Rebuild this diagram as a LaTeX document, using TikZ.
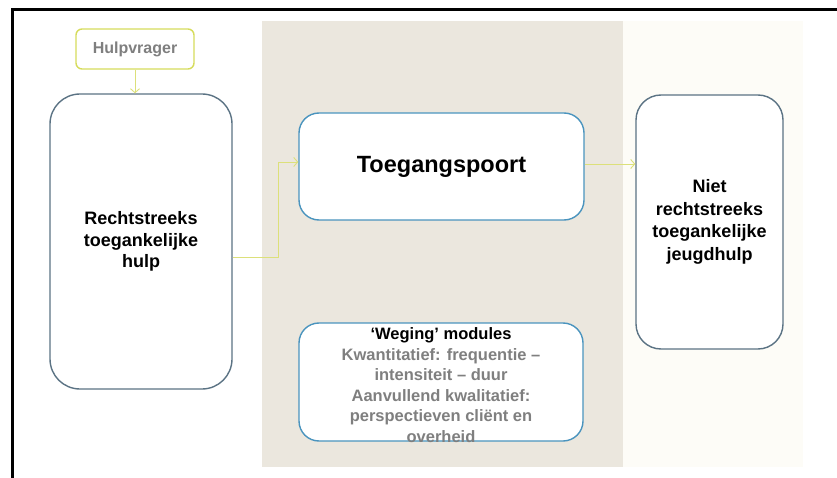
\documentclass[tikz,border=0pt]{standalone}
\usepackage{fontspec}
\setmainfont{Liberation Sans}
\usetikzlibrary{arrows.meta}
\definecolor{beige}{HTML}{EBE7DE}
\definecolor{lightpanel}{HTML}{FDFCF7}
\definecolor{slateb}{HTML}{5B7384}
\definecolor{blueb}{HTML}{4A94BE}
\definecolor{limeb}{HTML}{D6DC5C}
\definecolor{conncol}{HTML}{DCE07A}
\definecolor{graytxt}{HTML}{7F7F7F}
\tikzset{
  box/.style={draw, fill=white, line width=1.4pt, inner sep=0pt, align=center, font=\bfseries},
  conn/.style={draw=conncol, line width=0.9pt, -{Straight Barb[length=4pt,width=9pt]}},
}
\begin{document}
\begin{tikzpicture}[x=1pt,y=-1pt]
\useasboundingbox (0,0) rectangle (837,478);
% panels
\fill[beige] (262,21) rectangle (623,467);
\fill[lightpanel] (623,21) rectangle (803,467);
% frame
\draw[line width=3pt] (12,480) -- (12,10) -- (840,10);
% nodes
\node[box, draw=limeb, rounded corners=6pt, minimum width=118pt, minimum height=40pt,
      font=\bfseries\fontsize{16}{19}\selectfont, text=graytxt] (hulp) at (135,49) {Hulpvrager};
\node[box, draw=slateb, rounded corners=30pt, minimum width=182pt, minimum height=295pt,
      font=\bfseries\fontsize{18}{21.5}\selectfont] (left) at (141,241.5) {Rechtstreeks\\toegankelijke\\hulp};
\node[box, draw=blueb, rounded corners=20pt, minimum width=285pt, minimum height=107pt,
      font=\bfseries\fontsize{23.5}{28}\selectfont] (toeg) at (441.5,166.5) {Toegangspoort};
\node[box, draw=slateb, rounded corners=25pt, minimum width=147pt, minimum height=254pt,
      font=\bfseries\fontsize{18}{22.5}\selectfont] (niet) at (709.5,222) {Niet\\rechtstreeks\\toegankelijke\\jeugdhulp};
\node[box, draw=blueb, rounded corners=20pt, minimum width=284pt, minimum height=118pt] (weg) at (441,382) {};
\node[align=center, inner sep=0pt, font=\bfseries\fontsize{16.5}{20.6}\selectfont, text=graytxt] (wegtxt) at (441,385)
  {\textcolor{black}{‘Weging’ modules}\\Kwantitatief: frequentie –\\intensiteit – duur\\Aanvullend kwalitatief:\\perspectieven cliënt en\\overheid};
% connectors
\draw[conn] (hulp.south) -- (hulp.south |- left.north);
\draw[conn] ([yshift=-15.5pt]left.east) -- ++(46,0) |- ([yshift=4.5pt]toeg.west);
\draw[conn] ([yshift=2.5pt]toeg.east) -- ([yshift=2.5pt]toeg.east -| niet.west);
\end{tikzpicture}
\end{document}
